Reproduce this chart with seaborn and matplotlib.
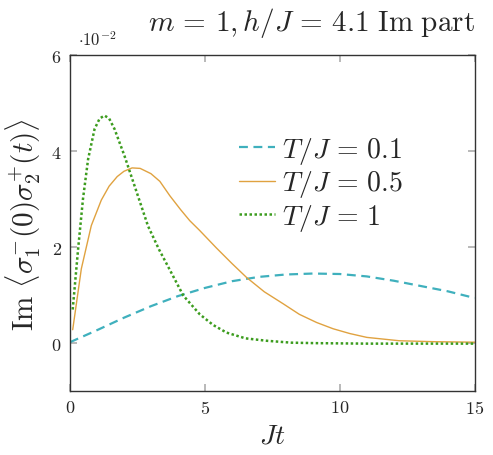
import matplotlib
matplotlib.use("Agg")
import matplotlib.pyplot as plt
import numpy as np
import pandas as pd
import seaborn as sns

# values, in units of 1e-2
t_01 = [0, 1, 2, 3, 4, 5, 6, 7, 8, 8.5, 9, 10, 11, 12, 13, 14, 15]
v_01 = [0.02, 0.27, 0.53, 0.77, 0.98, 1.15, 1.29, 1.38, 1.43, 1.44, 1.45, 1.44, 1.39, 1.30, 1.19, 1.08, 0.94]

t_05 = [0.1, 0.42, 0.79, 1.16, 1.45, 1.75, 2.0, 2.3, 2.6, 3.0, 3.33, 3.7, 4.1, 4.44, 4.8,
        5.43, 6.0, 6.54, 7.2, 7.9, 8.5, 9.14, 9.75, 10.37, 11, 12.2, 13.5, 15]
v_05 = [0.28, 1.55, 2.45, 2.98, 3.27, 3.47, 3.58, 3.65, 3.64, 3.53, 3.37, 3.07, 2.78, 2.55, 2.35,
        1.98, 1.66, 1.37, 1.07, 0.82, 0.6, 0.43, 0.3, 0.2, 0.12, 0.05, 0.03, 0.02]

t_1 = [0.1, 0.3, 0.48, 0.67, 0.91, 1.1, 1.28, 1.45, 1.65, 2.02, 2.39, 2.89, 3.3, 3.63,
       4.2, 4.81, 5.3, 5.8, 6.5, 7.28, 8.2, 9.1, 11, 13, 15]
v_1 = [0.7, 1.96, 3.0, 3.83, 4.46, 4.68, 4.74, 4.68, 4.46, 3.9, 3.28, 2.44, 1.95, 1.6,
       0.99, 0.6, 0.38, 0.22, 0.1, 0.05, 0.01, 0.0, -0.01, -0.01, -0.01]

labels = [r"$T/J\,=\,0.1$", r"$T/J\,=\,0.5$", r"$T/J\,=\,1$"]

df = pd.concat([
    pd.DataFrame({"t": t_01, "v": v_01, "lab": labels[0]}),
    pd.DataFrame({"t": t_05, "v": v_05, "lab": labels[1]}),
    pd.DataFrame({"t": t_1, "v": v_1, "lab": labels[2]}),
])

sns.set_theme(style="ticks")
plt.rcParams["font.family"] = "serif"
plt.rcParams["font.serif"] = ["cmr10"]
plt.rcParams["mathtext.fontset"] = "cm"
plt.rcParams["axes.formatter.use_mathtext"] = True

fig = plt.figure(figsize=(4.93, 4.56), dpi=100)
ax = fig.add_axes([0.142, 0.140, 0.821, 0.737])

pal = {labels[0]: "#3fb0bd", labels[1]: "#e0a240", labels[2]: "#3c9c1e"}
styles = {labels[0]: (0, (4, 2.5)), labels[1]: "-", labels[2]: (0, (1, 1))}
widths = {labels[0]: 1.6, labels[1]: 1.0, labels[2]: 1.8}

for lab in labels:
    sub = df[df["lab"] == lab]
    sns.lineplot(data=sub, x="t", y="v", ax=ax, color=pal[lab],
                 linestyle=styles[lab], linewidth=widths[lab], label=lab)

ax.set_xlim(0, 15)
ax.set_ylim(-1, 6)
ax.set_xticks([0, 5, 10, 15])
ax.set_yticks([0, 2, 4, 6])
ax.tick_params(direction="in", length=5, color="#b0b0b0", top=True, right=True,
               labelsize=13, pad=6)
for s in ax.spines.values():
    s.set_color("#333333")
    s.set_linewidth(1.0)

ax.set_xlabel(r"$Jt$", fontsize=20)
ax.set_ylabel(r"$\mathrm{Im}\ \langle\sigma_1^{-}(0)\sigma_2^{+}(t)\rangle$", fontsize=21, labelpad=6)
ax.set_title(r"$m\,=\,1, h/J\,=\,4.1\ \mathrm{Im\ part}$", fontsize=21, loc="right", pad=18)
ax.text(0.02, 1.02, r"$\cdot10^{-2}$", transform=ax.transAxes, fontsize=12, va="bottom")

leg = ax.legend(loc="center left", bbox_to_anchor=(0.355, 0.617), frameon=False,
                fontsize=20, handlelength=1.3, handletextpad=0.25, labelspacing=0.1)

fig.savefig("out.png", dpi=100)
